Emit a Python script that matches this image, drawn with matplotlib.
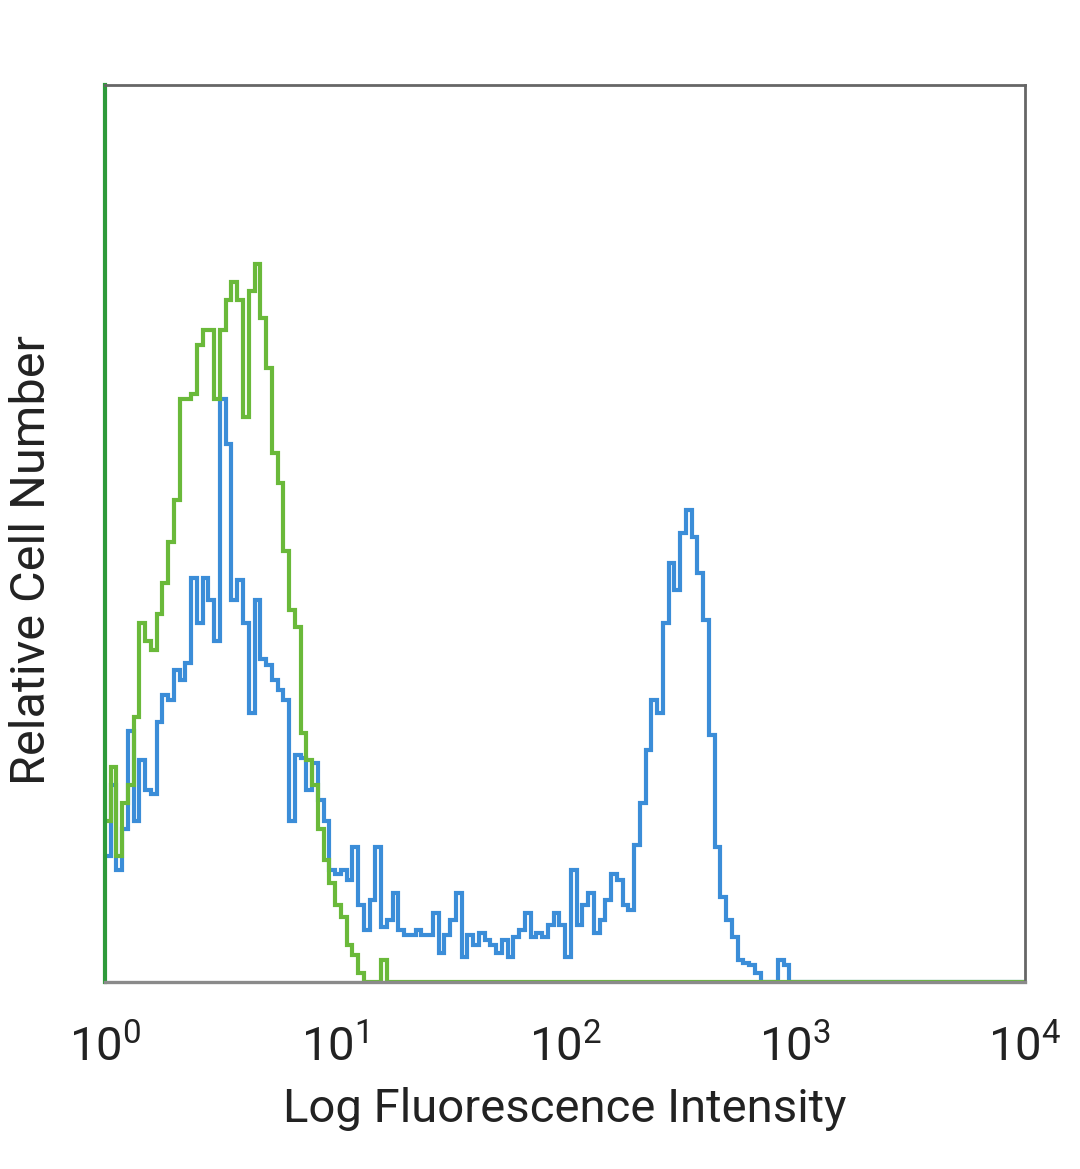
import numpy as np
import matplotlib
matplotlib.use("Agg")
import matplotlib.pyplot as plt

plt.rcParams['font.family'] = ['Roboto', 'DejaVu Sans']
plt.rcParams['mathtext.fontset'] = 'custom'
plt.rcParams['mathtext.rm'] = 'Roboto'
plt.rcParams['mathtext.default'] = 'regular'

# histogram channels: log10 bin edges from 10^0 to 10^4, 0.025 decade wide
bin_edges = 10 ** np.arange(0, 4.0001, 0.025)

# relative cell counts (0-100 = axis height)
blue_counts = [
    14, 22, 12.5, 17, 28, 18, 24.7, 21.4, 21, 29,
    32, 31.4, 34.8, 33.7, 35.6, 45, 40, 45, 42.6, 38,
    65, 60, 42.6, 44.8, 40, 30, 42.6, 36, 35.3, 33.7,
    32.5, 31.4, 18, 25.3, 25, 21.4, 24.4, 20.3, 18, 12.5,
    12, 12.5, 11.4, 15, 8.6, 5.8, 9.1, 15, 6.1, 6.9,
    9.9, 5.8, 5.2, 5.2, 5.8, 5.2, 5.2, 7.7, 3.2, 5.2,
    6.9, 9.9, 2.8, 5.2, 4.1, 5.5, 4.7, 4.1, 3.2, 4.7,
    2.8, 5.0, 5.8, 7.7, 5.0, 5.5, 5.0, 6.4, 7.7, 6.4,
    2.8, 12.5, 6.4, 8.6, 9.9, 5.5, 6.9, 9.1, 12, 11.4,
    8.6, 8.0, 15.3, 20, 25.9, 31.4, 30, 40, 46.7, 43.7,
    50, 52.6, 49.6, 45.6, 40.4, 27.5, 15, 9.5, 6.9, 5.0,
    2.5, 2.1, 1.9, 1.0, 0, 0, 0, 2.5, 1.9,
]
green_counts = [
    18, 24, 14, 20, 22, 29.5, 40, 38, 37, 41,
    44.5, 49, 53.7, 65, 65, 65.5, 71, 72.7, 72.7, 65,
    72.7, 76, 78, 76, 63, 77, 80, 74, 68.5, 59,
    55.6, 48, 41.5, 39.6, 27.8, 24.7, 22, 17, 13.6, 11,
    8.6, 7.2, 4.1, 3.0, 1.0, 0, 0, 0, 2.5, 0,
]

n_bins = len(bin_edges) - 1
blue = np.zeros(n_bins)
blue[:len(blue_counts)] = blue_counts
green = np.zeros(n_bins)
green[:len(green_counts)] = green_counts

fig = plt.figure(figsize=(10.8, 11.69), dpi=100)
ax = fig.add_axes([0.0972, 0.16, 0.852, 0.7673])

ax.stairs(blue, bin_edges, color='#3b8dd8', lw=3, baseline=None)
ax.stairs(green, bin_edges, color='#6ab93a', lw=3, baseline=None)

ax.set_xscale('log')
ax.set_xlim(1, 1e4)
ax.set_ylim(0, 100)
ax.set_xticks([1, 10, 100, 1000, 10000])
ax.set_xticklabels([r'$10^{0}$', r'$10^{1}$', r'$10^{2}$', r'$10^{3}$', r'$10^{4}$'])
ax.xaxis.set_minor_locator(matplotlib.ticker.NullLocator())
ax.set_yticks([])
ax.tick_params(axis='x', length=0, pad=30, labelsize=34, colors='#222222')

for side in ['top', 'right']:
    ax.spines[side].set_color('#666666')
    ax.spines[side].set_linewidth(2)
ax.spines['bottom'].set_color('#8a8a8a')
ax.spines['bottom'].set_linewidth(2.4)
ax.spines['left'].set_color('#2e9a3a')
ax.spines['left'].set_linewidth(3)

ax.set_xlabel('Log Fluorescence Intensity', fontsize=34, color='#222222', labelpad=12)
ax.set_ylabel('Relative Cell Number', fontsize=35, color='#222222')
ax.yaxis.set_label_coords(-0.054, 0.47)

fig.savefig('out.png', dpi=100)
